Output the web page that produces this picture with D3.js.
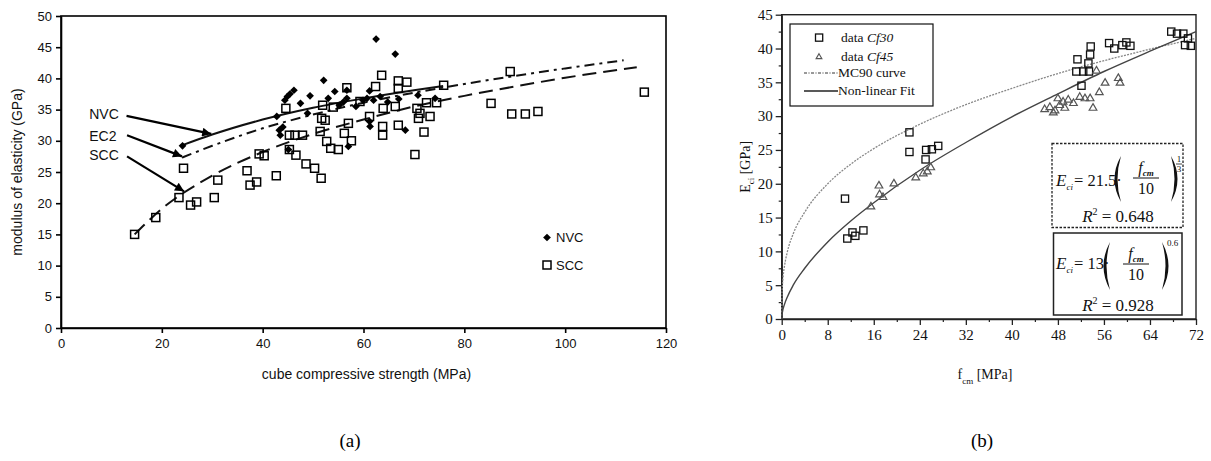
<!DOCTYPE html>
<html><head><meta charset="utf-8">
<script src="https://cdn.jsdelivr.net/npm/d3@7/dist/d3.min.js"></script>
<style>body{margin:0;background:#fff}</style></head>
<body><svg id="c" width="1211" height="461"></svg>
<script>
// ---------- Panel (a) data ----------
const aXTicks = [0, 20, 40, 60, 80, 100, 120];
const aYTicks = [0, 5, 10, 15, 20, 25, 30, 35, 40, 45, 50];
const nvcPoints = [[24.1,29.2],[42.8,33.9],[43.3,31.7],[43.5,30.9],[44.4,36.5],[44.9,37.1],[45.4,37.5],[46.2,38.1],[45.1,28.6],[44.0,32.2],[49.4,37.2],[48.9,34.4],[52.1,39.7],[54.3,37.9],[55.2,35.7],[56.0,36.2],[56.7,36.8],[56.7,38.1],[57.0,29.1],[59.9,36.5],[60.7,36.8],[61.2,38.0],[61.2,33.1],[61.3,32.3],[62.0,36.5],[62.5,46.3],[63.3,37.1],[66.3,43.9],[68.3,31.7],[70.8,37.3],[74.2,36.8],[47.5,36.0],[53.0,36.8],[58.5,35.5],[64.8,36.2],[67.0,36.7]];
const sccPoints = [[14.6,15.0],[18.8,17.7],[23.4,20.9],[24.3,25.6],[25.7,19.7],[26.9,20.2],[30.4,20.9],[31.1,23.7],[36.9,25.2],[37.5,22.9],[38.8,23.4],[39.3,27.9],[40.3,27.6],[42.7,24.4],[44.6,35.2],[45.3,30.9],[45.3,28.6],[46.4,30.9],[46.6,27.7],[47.9,30.9],[48.6,26.3],[50.3,25.6],[51.6,24.0],[51.4,31.5],[51.7,33.6],[52.4,33.3],[51.9,35.7],[54.0,35.4],[52.7,29.9],[53.5,28.8],[55.0,28.6],[56.2,31.2],[57.0,32.8],[57.6,30.0],[56.7,38.5],[59.3,36.3],[61.2,33.9],[62.4,38.7],[63.6,40.5],[63.9,35.2],[63.8,32.3],[63.8,30.9],[66.3,35.5],[66.9,39.6],[66.9,38.4],[66.9,32.5],[68.6,39.4],[70.2,27.8],[70.6,35.2],[70.9,33.6],[71.2,34.4],[72.0,31.4],[72.5,36.1],[73.2,33.9],[74.5,36.1],[75.9,38.9],[85.3,36.0],[89.1,41.1],[89.4,34.3],[92.1,34.3],[94.6,34.7],[115.7,37.8]];
const nvcFitF = [24.1, 30, 40, 50, 60, 70, 75.8];
const nvcFitE = [29.3, 31.0, 33.4, 35.3, 36.8, 38.1, 38.8];
const ec2F = [24, 30, 40, 50, 60, 70, 80, 90, 100, 111.6];
const ec2E = [27.3, 29.2, 32.0, 34.2, 36.1, 37.7, 39.1, 40.4, 41.6, 42.9];
const sccFitF = [14.6, 20, 30, 40, 50, 60, 70, 80, 90, 100, 114.2];
const sccFitE = [15.0, 19.1, 24.4, 28.2, 31.1, 33.4, 35.5, 37.2, 38.7, 40.1, 41.8];
const arrowLabels = ["NVC", "EC2", "SCC"];
const arrowTextX = [5.6, 5.6, 5.6];
const arrowTextY = [34.3, 30.8, 27.7];
const arrowFromX = [13.0, 13.1, 13.1];
const arrowFromY = [34.0, 30.9, 27.5];
const arrowToX = [29.8, 24.0, 24.4];
const arrowToY = [31.1, 27.5, 21.9];
const aLegend = ["NVC", "SCC"];

// ---------- Panel (b) data ----------
const bXTicks = [0, 8, 16, 24, 32, 40, 48, 56, 64, 72];
const bYTicks = [0, 5, 10, 15, 20, 25, 30, 35, 40, 45];
const cf30Points = [[11.0,17.8],[11.4,11.9],[12.3,12.8],[12.8,12.3],[14.2,13.1],[22.2,27.6],[22.2,24.7],[25.1,25.0],[25.0,23.6],[26.1,25.1],[27.2,25.6],[51.2,36.6],[51.4,38.4],[52.4,36.6],[53.4,36.6],[53.3,37.8],[53.6,39.1],[53.7,40.3],[52.1,34.5],[56.9,40.8],[57.8,40.0],[59.2,40.5],[59.9,40.9],[60.6,40.4],[67.7,42.5],[68.7,42.2],[69.8,42.2],[70.6,41.5],[70.1,40.5],[71.1,40.4]];
const cf45Points = [[15.5,16.6],[16.9,19.7],[17.0,18.4],[17.6,18.0],[19.5,20.0],[23.3,20.9],[24.6,21.5],[25.3,21.8],[25.9,22.4],[45.7,31.0],[46.6,31.3],[47.2,30.5],[47.5,30.8],[48.0,32.6],[48.3,31.6],[48.9,32.1],[49.2,31.2],[49.8,32.4],[50.7,31.9],[51.8,32.8],[52.7,32.6],[53.6,32.6],[54.1,31.2],[54.7,36.7],[55.2,33.5],[56.2,34.9],[58.5,35.6],[58.8,34.9]];
const mc90F = [0, 0.05, 0.1, 0.25, 0.5, 1, 2, 4, 8, 12, 16, 24, 32, 40, 48, 56, 64, 72];
const mc90E = [0, 3.7, 4.6, 6.3, 7.9, 10.0, 12.6, 15.8, 20.0, 22.9, 25.2, 28.8, 31.7, 34.1, 36.3, 38.2, 39.9, 41.5];
const fitF = [0, 0.1, 0.5, 1, 2, 4, 8, 12, 16, 24, 32, 40, 48, 56, 64, 72];
const fitE = [0, 0.9, 2.2, 3.3, 5.0, 7.5, 11.4, 14.5, 17.2, 22.0, 26.1, 29.9, 33.3, 36.6, 39.6, 42.5];
const bLegend = ["data ", "data ", "MC90 curve", "Non-linear Fit"];
const bLegendItalic = ["Cf30", "Cf45", "", ""];

// ---------- Drawing ----------
const svg = d3.select("#c");
svg.append("rect").attr("width",1211).attr("height",461).attr("fill","#fff");
const SANS = "'Liberation Sans', Arial, sans-serif";
const SERIF = "'Liberation Serif', 'Times New Roman', serif";

svg.append("defs").append("marker")
  .attr("id","ah").attr("viewBox","0 0 10 10").attr("refX",10).attr("refY",5)
  .attr("markerWidth",12).attr("markerHeight",9).attr("markerUnits","userSpaceOnUse")
  .attr("orient","auto")
  .append("path").attr("d","M0,0 L10,5 L0,10 Z").attr("fill","#000");

// ===== Panel (a) =====
const xA = d3.scaleLinear().domain([0,120]).range([61,666]);
const yA = d3.scaleLinear().domain([0,50]).range([328,16]);
const gA = svg.append("g");

gA.append("rect").attr("x",xA(0)).attr("y",yA(50)).attr("width",xA(120)-xA(0)).attr("height",yA(0)-yA(50))
  .attr("fill","none").attr("stroke","#000").attr("stroke-width",1.6);

const axA_x = gA.append("g").attr("transform",`translate(0,${yA(0)})`)
  .call(d3.axisBottom(xA).tickValues(aXTicks).tickSize(5).tickSizeOuter(0).tickPadding(6));
const axA_y = gA.append("g").attr("transform",`translate(${xA(0)},0)`)
  .call(d3.axisLeft(yA).tickValues(aYTicks).tickSize(5).tickSizeOuter(0).tickPadding(4));
[axA_x, axA_y].forEach(ax => {
  ax.selectAll("path").attr("stroke","#000").attr("stroke-width",1.6);
  ax.selectAll("line").attr("stroke","#000").attr("stroke-width",1.6);
  ax.selectAll("text").attr("fill","#111").style("font-family",SANS).style("font-size","13px");
});

gA.append("text").attr("transform",`translate(22,${(yA(0)+yA(50))/2}) rotate(-90)`)
  .attr("text-anchor","middle").style("font-family",SANS).style("font-size","14px").attr("fill","#111")
  .text("modulus of elasticity (GPa)");
gA.append("text").attr("x",(xA(0)+xA(120))/2+3).attr("y",379)
  .attr("text-anchor","middle").style("font-family",SANS).style("font-size","14px").attr("fill","#111")
  .text("cube compressive strength (MPa)");

// fit lines
const lineA = d3.line().x(d=>xA(d[0])).y(d=>yA(d[1])).curve(d3.curveMonotoneX);
gA.append("path").datum(sccFitF.map((f,i)=>[f,sccFitE[i]])).attr("d",lineA)
  .attr("fill","none").attr("stroke","#111").attr("stroke-width",2).attr("stroke-dasharray","14,7");
gA.append("path").datum(ec2F.map((f,i)=>[f,ec2E[i]])).attr("d",lineA)
  .attr("fill","none").attr("stroke","#111").attr("stroke-width",2).attr("stroke-dasharray","10,5,3,5");
gA.append("path").datum(nvcFitF.map((f,i)=>[f,nvcFitE[i]])).attr("d",lineA)
  .attr("fill","none").attr("stroke","#111").attr("stroke-width",2);

// SCC squares
gA.selectAll("rect.scc").data(sccPoints).join("rect").attr("class","scc")
  .attr("x",d=>xA(d[0])-4).attr("y",d=>yA(d[1])-4).attr("width",8).attr("height",8)
  .attr("fill","none").attr("stroke","#000").attr("stroke-width",1.5);
// NVC diamonds
const diamond = d3.symbol().type(d3.symbolDiamond2).size(38);
gA.selectAll("path.nvc").data(nvcPoints).join("path").attr("class","nvc")
  .attr("transform",d=>`translate(${xA(d[0])},${yA(d[1])})`).attr("d",diamond).attr("fill","#000");

// arrows & labels
arrowLabels.forEach((lab,i)=>{
  gA.append("text").attr("x",xA(arrowTextX[i])).attr("y",yA(arrowTextY[i])+5)
    .style("font-family",SANS).style("font-size","14px").attr("fill","#111").text(lab);
  gA.append("line").attr("x1",xA(arrowFromX[i])).attr("y1",yA(arrowFromY[i]))
    .attr("x2",xA(arrowToX[i])).attr("y2",yA(arrowToY[i]))
    .attr("stroke","#000").attr("stroke-width",2.2).attr("marker-end","url(#ah)");
});

// legend (a)
const legA = gA.append("g");
legA.append("path").attr("transform","translate(547,237.5)").attr("d",diamond).attr("fill","#000");
legA.append("rect").attr("x",543).attr("y",261).attr("width",8).attr("height",8)
  .attr("fill","none").attr("stroke","#000").attr("stroke-width",1.5);
aLegend.forEach((t,i)=>{
  legA.append("text").attr("x",556).attr("y",[242,270][i]).style("font-family",SANS).style("font-size","13px")
    .attr("fill","#111").text(t);
});

// caption (a)
svg.append("text").attr("x",350).attr("y",447).attr("text-anchor","middle")
  .style("font-family",SERIF).style("font-size","19px").attr("fill","#000").text("(a)");

// ===== Panel (b) =====
const xB = d3.scaleLinear().domain([0,72]).range([781.7,1196]);
const yB = d3.scaleLinear().domain([0,45]).range([319,14.7]);
const gB = svg.append("g");

gB.append("rect").attr("x",xB(0)).attr("y",yB(45)).attr("width",xB(72)-xB(0)).attr("height",yB(0)-yB(45))
  .attr("fill","none").attr("stroke","#222").attr("stroke-width",1.4);

const minorX = d3.range(4,72,8);
const minorY = d3.range(2.5,45,5);
gB.append("g").attr("transform",`translate(0,${yB(0)})`)
  .call(d3.axisBottom(xB).tickValues(minorX).tickSize(3).tickSizeOuter(0).tickFormat(""))
  .call(g=>{g.select(".domain").remove(); g.selectAll("line").attr("stroke","#222").attr("stroke-width",1.2);});
gB.append("g").attr("transform",`translate(${xB(0)},0)`)
  .call(d3.axisLeft(yB).tickValues(minorY).tickSize(3).tickSizeOuter(0).tickFormat(""))
  .call(g=>{g.select(".domain").remove(); g.selectAll("line").attr("stroke","#222").attr("stroke-width",1.2);});
const axB_x = gB.append("g").attr("transform",`translate(0,${yB(0)})`)
  .call(d3.axisBottom(xB).tickValues(bXTicks).tickSize(6).tickSizeOuter(0).tickPadding(4));
const axB_y = gB.append("g").attr("transform",`translate(${xB(0)},0)`)
  .call(d3.axisLeft(yB).tickValues(bYTicks).tickSize(6).tickSizeOuter(0).tickPadding(3));
[axB_x, axB_y].forEach(ax => {
  ax.selectAll("path").attr("stroke","#222").attr("stroke-width",1.4);
  ax.selectAll("line").attr("stroke","#222").attr("stroke-width",1.3);
  ax.selectAll("text").attr("fill","#111").style("font-family",SERIF).style("font-size","15px");
});

// axis titles (b)
const ty = gB.append("text").attr("transform",`translate(750,${(yB(0)+yB(45))/2}) rotate(-90)`)
  .attr("text-anchor","middle").style("font-family",SERIF).style("font-size","14px").attr("fill","#111");
ty.append("tspan").text("E");
ty.append("tspan").attr("dy",4).style("font-size","9px").text("ci");
ty.append("tspan").attr("dy",-4).text(" [GPa]");
const tx = gB.append("text").attr("x",985).attr("y",379).attr("text-anchor","middle")
  .style("font-family",SERIF).style("font-size","14px").attr("fill","#111");
tx.append("tspan").text("f");
tx.append("tspan").attr("dy",5).style("font-size","9px").text("cm");
tx.append("tspan").attr("dy",-5).text(" [MPa]");

// curves
const lineB = d3.line().x(d=>xB(d[0])).y(d=>yB(d[1])).curve(d3.curveMonotoneX);
gB.append("path").datum(mc90F.map((f,i)=>[f,mc90E[i]])).attr("d",lineB)
  .attr("fill","none").attr("stroke","#888").attr("stroke-width",1.3).attr("stroke-dasharray","2,1.2");
gB.append("path").datum(fitF.map((f,i)=>[f,fitE[i]])).attr("d",lineB)
  .attr("fill","none").attr("stroke","#444").attr("stroke-width",1.4);

// points
gB.selectAll("rect.cf30").data(cf30Points).join("rect").attr("class","cf30")
  .attr("x",d=>xB(d[0])-3.6).attr("y",d=>yB(d[1])-3.6).attr("width",7.2).attr("height",7.2)
  .attr("fill","none").attr("stroke","#111").attr("stroke-width",1.3);
const tri = d3.symbol().type(d3.symbolTriangle2).size(42);
gB.selectAll("path.cf45").data(cf45Points).join("path").attr("class","cf45")
  .attr("transform",d=>`translate(${xB(d[0])},${yB(d[1])})`).attr("d",tri)
  .attr("fill","none").attr("stroke","#555").attr("stroke-width",1.2);

// legend (b)
const legB = gB.append("g");
legB.append("rect").attr("x",790).attr("y",24).attr("width",143).attr("height",82)
  .attr("fill","#fff").attr("stroke","#111").attr("stroke-width",1.2);
legB.append("rect").attr("x",815.5).attr("y",34).attr("width",7.2).attr("height",7.2)
  .attr("fill","none").attr("stroke","#111").attr("stroke-width",1.3);
legB.append("path").attr("transform","translate(819,57)").attr("d",d3.symbol().type(d3.symbolTriangle2).size(24))
  .attr("fill","none").attr("stroke","#555").attr("stroke-width",1.1);
legB.append("line").attr("x1",804).attr("x2",838).attr("y1",73).attr("y2",73)
  .attr("stroke","#333").attr("stroke-width",1).attr("stroke-dasharray","3,1.5,1,1.5");
legB.append("line").attr("x1",804).attr("x2",838).attr("y1",91).attr("y2",91)
  .attr("stroke","#222").attr("stroke-width",1.3);
bLegend.forEach((t,i)=>{
  const tt = legB.append("text").attr("x",i<2?841:838).attr("y",[42,61,77,95][i])
    .style("font-family",SERIF).style("font-size","13.5px").attr("fill","#111");
  tt.append("tspan").text(t);
  if (bLegendItalic[i]) tt.append("tspan").style("font-style","italic").text(bLegendItalic[i]);
});

// equation boxes
const eq = gB.append("g").style("font-family",SERIF).attr("fill","#111");
eq.append("rect").attr("x",1052).attr("y",143.5).attr("width",131).attr("height",84)
  .attr("fill","#fff").attr("stroke","#222").attr("stroke-width",1.3).attr("stroke-dasharray","2.5,1.5");
eq.append("rect").attr("x",1053.5).attr("y",233).attr("width",128.5).attr("height",82)
  .attr("fill","#fff").attr("stroke","#222").attr("stroke-width",1.5);

function paren(x, y1, y2, left){
  const mid=(y1+y2)/2, s = left ? -1 : 1;
  return `M${x},${y1} Q${x+s*13},${mid} ${x},${y2} Q${x+s*7},${mid} ${x},${y1} Z`;
}
function equation(cfg){
  eq.append("text").attr("x",1056).attr("y",cfg.by).style("font-size","17px").style("font-style","italic").text("E");
  eq.append("text").attr("x",1066.5).attr("y",cfg.by+4).style("font-size","9px").style("font-style","italic").text("ci");
  eq.append("text").attr("x",1074).attr("y",cfg.by).style("font-size","16.5px").text(cfg.coef);
  eq.append("path").attr("d",paren(cfg.pl,cfg.pt,cfg.pb,true)).attr("fill","#111");
  eq.append("path").attr("d",paren(cfg.pr,cfg.pt,cfg.pb,false)).attr("fill","#111");
  const fc = (cfg.pl+cfg.pr)/2;
  const fn = eq.append("text").attr("x",fc).attr("y",cfg.fy).attr("text-anchor","middle");
  fn.append("tspan").style("font-size","16px").style("font-style","italic").text("f");
  fn.append("tspan").attr("dy",3).style("font-size","9px").style("font-style","italic").style("font-weight","bold").text("cm");
  eq.append("line").attr("x1",fc-13).attr("x2",fc+13).attr("y1",cfg.fy+5).attr("y2",cfg.fy+5).attr("stroke","#111").attr("stroke-width",1);
  eq.append("text").attr("x",fc).attr("y",cfg.fy+21).attr("text-anchor","middle").style("font-size","16px").text("10");
  const r = eq.append("text").attr("x",1118).attr("y",cfg.ry).attr("text-anchor","middle").style("font-size","17px");
  r.append("tspan").style("font-style","italic").text("R");
  r.append("tspan").attr("dy",-7).style("font-size","10px").text("2");
  r.append("tspan").attr("dy",7).text(" = " + cfg.r2);
}
equation({by:186, coef:"= 21.5\u00b7", pl:1121, pr:1171, pt:156, pb:202, fy:173, ry:222, r2:"0.648"});
eq.append("text").attr("x",1179).attr("y",162).attr("text-anchor","middle").style("font-size","9px").text("1");
eq.append("line").attr("x1",1176).attr("x2",1182).attr("y1",164).attr("y2",164).attr("stroke","#111").attr("stroke-width",0.8);
eq.append("text").attr("x",1179).attr("y",172).attr("text-anchor","middle").style("font-size","9px").text("3");
equation({by:269, coef:"= 13\u00b7", pl:1110, pr:1162, pt:242, pb:290, fy:259, ry:311, r2:"0.928"});
eq.append("text").attr("x",1167).attr("y",246).style("font-size","9px").text("0.6");

// caption (b)
svg.append("text").attr("x",982).attr("y",447).attr("text-anchor","middle")
  .style("font-family",SERIF).style("font-size","19px").attr("fill","#000").text("(b)");
</script>
</body></html>
